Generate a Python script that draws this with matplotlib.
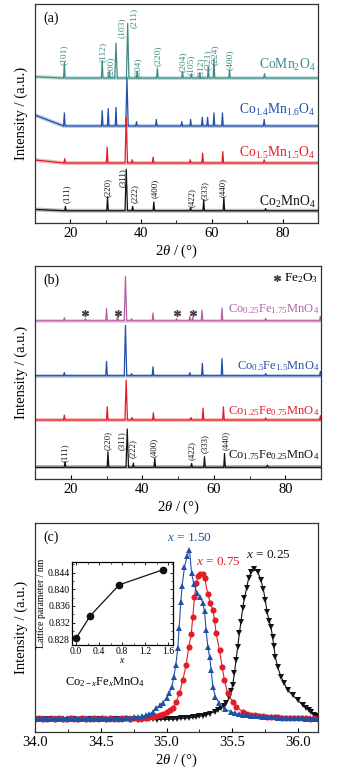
import numpy as np
import matplotlib
matplotlib.use("Agg")
import matplotlib.pyplot as plt
from matplotlib.ticker import MultipleLocator

plt.rcParams["font.family"] = ["Liberation Serif", "DejaVu Serif"]
plt.rcParams["mathtext.fontset"] = "custom"
plt.rcParams["mathtext.rm"] = "Liberation Serif"
plt.rcParams["mathtext.it"] = "Liberation Serif:italic"
plt.rcParams["mathtext.bf"] = "Liberation Serif:bold"
plt.rcParams["xtick.direction"] = "in"
plt.rcParams["ytick.direction"] = "in"

# ---------------- (a) Co(3-x)MnxO4 patterns: peak 2theta and height above baseline
a_names = ["CoMn$_2$O$_4$", "Co$_{1.4}$Mn$_{1.6}$O$_4$",
           "Co$_{1.5}$Mn$_{1.5}$O$_4$", "Co$_2$MnO$_4$"]
a_baseline = [66.2, 44.3, 27.4, 5.6]
a_start = [66.8, 49.3, 28.8, 6.2]
a_peaks = [
    [18.3, 29.0, 31.0, 32.9, 36.2, 38.9, 44.6, 51.7, 54.2, 56.6, 59.0, 60.6, 65.0, 74.9],
    [18.3, 29.0, 30.7, 32.9, 36.0, 38.7, 44.3, 51.5, 54.0, 57.3, 58.8, 60.6, 63.0, 74.8],
    [18.4, 30.4, 35.8, 37.5, 43.4, 53.9, 57.4, 63.1, 74.8],
    [18.6, 30.5, 35.8, 37.6, 43.6, 54.0, 57.7, 63.4, 75.2],
]
a_heights = [
    [7, 8, 3, 16, 25, 3, 4.5, 3, 2, 2.5, 5.2, 9, 3.7, 2],
    [6, 7, 8, 8.5, 22, 2, 3, 2, 3, 4, 4, 6, 6, 3],
    [2, 7.3, 21, 1.5, 2.7, 1.5, 4.5, 5.2, 1.5],
    [2, 6.3, 19, 2, 4, 1.5, 5, 6, 1],
]
a_hkl_top = ["(101)", "(112)", "(200)", "(103)", "(211)", "(004)", "(220)",
             "(204)", "(105)", "(312)", "(321)", "(224)", "(400)"]
spinel_hkl = ["(111)", "(220)", "(311)", "(222)", "(400)", "(422)", "(333)", "(440)"]

# ---------------- (b) Co(2-x)FexMnO4 patterns
b_names = ["Co$_{0.25}$Fe$_{1.75}$MnO$_4$", "Co$_{0.5}$Fe$_{1.5}$MnO$_4$",
           "Co$_{1.25}$Fe$_{0.75}$MnO$_4$", "Co$_{1.75}$Fe$_{0.25}$MnO$_4$"]
b_baseline = [74.3, 48.5, 27.7, 5.5]
b_peaks = [
    [18.2, 24.1, 30.0, 33.1, 35.3, 37.0, 43.0, 49.6, 53.3, 54.1, 56.7, 62.3, 74.5, 89.8],
    [18.2, 30.0, 35.3, 37.0, 43.0, 53.3, 56.8, 62.3, 74.5, 89.8],
    [18.2, 30.2, 35.5, 37.1, 43.1, 53.6, 57.0, 62.7, 74.5, 89.8],
    [18.4, 30.4, 35.8, 37.5, 43.5, 53.8, 57.4, 63.0, 75.0],
]
b_heights = [
    [1.5, 1, 5.8, 2.7, 20.8, 1, 3.6, 1, 2, 1.5, 5, 6, 1.2, 2],
    [1.5, 6.7, 23.6, 1, 4.2, 1.5, 5.8, 8.1, 1, 2],
    [2.3, 6.2, 18.8, 1.2, 3.4, 1.2, 5.6, 6.2, 1, 2],
    [2.6, 7.3, 18, 2, 4.2, 1.8, 5, 6.5, 1],
]
fe2o3_peaks = [24.1, 33.2, 49.6, 54.1]

# ---------------- (c) (311) peak region, 2theta and intensity
c_tt_left = [34.00, 34.03, 34.06, 34.09, 34.12, 34.15, 34.18, 34.21, 34.24, 34.27,
             34.30, 34.33, 34.36, 34.39, 34.42, 34.45, 34.48, 34.51, 34.54, 34.57,
             34.60, 34.63, 34.66, 34.69, 34.72, 34.75, 34.78, 34.81, 34.84]
blue_left = [6.6, 6.2, 6.8, 6.4, 6.1, 6.7, 6.3, 6.5, 6.9, 6.2, 6.6, 6.4, 6.0, 6.7, 6.5,
             6.3, 6.8, 6.4, 6.6, 6.2, 6.9, 6.5, 6.3, 6.7, 6.6, 7.0, 7.2, 7.5, 7.9]
red_left = [6.3, 6.6, 6.1, 6.4, 6.8, 6.2, 6.5, 6.0, 6.4, 6.7, 6.3, 6.1, 6.6, 6.4, 6.2,
            6.8, 6.3, 6.5, 6.1, 6.6, 6.4, 6.2, 6.7, 6.5, 6.3, 6.6, 6.4, 6.8, 6.7]
black_left = [5.9, 6.1, 5.7, 6.0, 6.2, 5.8, 6.1, 5.9, 5.6, 6.0, 6.2, 5.8, 6.0, 5.9, 6.1,
              5.7, 6.0, 6.2, 5.8, 5.9, 6.1, 6.0, 5.8, 6.2, 5.9, 6.0, 6.1, 5.9, 6.0]

blue_tt = [34.87, 34.90, 34.92, 34.95, 34.97, 35.00, 35.02, 35.04, 35.055, 35.07,
           35.085, 35.095, 35.108, 35.118, 35.136, 35.155, 35.174, 35.19, 35.207, 35.23,
           35.255, 35.275, 35.288, 35.30, 35.313, 35.326, 35.339, 35.351, 35.371, 35.40,
           35.44, 35.49, 35.52, 35.55, 35.58, 35.61, 35.64, 35.67, 35.70, 35.73,
           35.76, 35.79, 35.82, 35.85, 35.88, 35.91, 35.94, 35.97, 36.00, 36.03,
           36.06, 36.09, 36.12, 36.15]
blue_int = [8.5, 9.8, 11.3, 12.8, 14.0, 16.1, 18.5, 21.7, 26.5, 32.0,
            40.0, 50.0, 62.2, 70.0, 78.9, 84.0, 87.1, 76.0, 70.8, 66.7,
            64.6, 61.9, 57.9, 49.0, 40.8, 36.0, 29.7, 21.7, 16.9, 13.7,
            11.0, 9.7, 9.0, 8.6, 8.3, 8.0, 7.8, 7.6, 7.5, 7.3,
            7.2, 7.1, 7.0, 6.9, 6.8, 6.8, 6.7, 6.6, 6.6, 6.5,
            6.4, 6.6, 6.3, 6.4]
red_tt = [34.87, 34.90, 34.92, 34.95, 34.97, 35.00, 35.025, 35.048, 35.073, 35.098,
          35.123, 35.149, 35.169, 35.187, 35.199, 35.212, 35.225, 35.24, 35.255, 35.273,
          35.29, 35.313, 35.333, 35.351, 35.364, 35.376, 35.402, 35.422, 35.439, 35.464,
          35.502, 35.528, 35.578, 35.61, 35.64, 35.67, 35.70, 35.73, 35.76, 35.79,
          35.82, 35.85, 35.88, 35.91, 35.94, 35.97, 36.00, 36.03, 36.06, 36.09,
          36.12, 36.15]
red_int = [7.2, 7.0, 7.6, 8.1, 8.8, 9.7, 10.4, 11.3, 14.5, 18.5,
           24.9, 32.1, 40.8, 46.9, 54.9, 64.7, 71.1, 74.5, 75.5, 75.5,
           73.5, 65.9, 61.6, 58.4, 53.6, 47.2, 39.2, 31.2, 24.9, 18.5,
           14.5, 12.1, 9.7, 8.8, 8.3, 8.0, 7.8, 7.6, 7.4, 7.3,
           7.1, 7.0, 6.9, 6.8, 6.7, 6.7, 6.6, 6.5, 6.6, 6.4,
           6.5, 6.3]
black_tt = [34.87, 34.90, 34.93, 34.96, 34.99, 35.02, 35.05, 35.08, 35.11, 35.14,
            35.17, 35.20, 35.225, 35.25, 35.275, 35.30, 35.33, 35.364, 35.39, 35.414,
            35.435, 35.452, 35.477, 35.49, 35.502, 35.515, 35.528, 35.540, 35.553, 35.565,
            35.578, 35.591, 35.608, 35.623, 35.642, 35.667, 35.692, 35.717, 35.735, 35.750,
            35.763, 35.78, 35.793, 35.805, 35.815, 35.826, 35.843, 35.869, 35.894, 35.919,
            35.957, 35.995, 36.033, 36.06, 36.083, 36.10, 36.121, 36.14]
black_int = [6.0, 6.1, 5.9, 6.1, 6.0, 6.1, 6.1, 6.3, 6.5, 6.6,
             6.8, 7.0, 7.3, 7.5, 7.8, 8.1, 8.8, 9.7, 10.5, 11.3,
             12.5, 13.7, 16.9, 19.5, 22.5, 28.1, 34.4, 40.8, 47.2, 52.8,
             59.2, 64.0, 68.8, 73.5, 76.7, 77.8, 76.7, 72.7, 68.3, 63.2,
             57.6, 53.0, 50.1, 45.6, 41.0, 36.0, 31.2, 26.5, 23.3, 20.1,
             17.7, 15.3, 12.9, 11.5, 10.5, 9.5, 8.1, 7.5]

# inset: lattice parameter vs Fe content
fe_x = [0.0, 0.25, 0.75, 1.5]
lattice_nm = [0.8282, 0.8337, 0.8411, 0.8447]

# ---------------- layout / style
teal, blue, red, black, mag = "#3f8c86", "#2250a8", "#e31c25", "#111111", "#b262a4"
a_colors = [teal, blue, red, black]
b_colors = [mag, blue, red, black]
# label anchors (2theta, bottom) for hkl text
a_top_lbl_x = [18.1, 29.2, 31.3, 34.65, 37.9, 39.0, 44.75, 51.7, 54.15, 57.0, 59.0, 60.9, 65.1]
a_top_lbl_y = [72.1, 73.7, 66.8, 84.5, 89.0, 66.2, 71.5, 69.0, 67.6, 66.0, 69.9, 72.1, 69.9]
a_bot_lbl_x = [18.9, 30.7, 34.9, 38.35, 44.0, 54.35, 58.1, 63.2]
a_bot_lbl_y = [9.1, 11.9, 16.4, 9.1, 11.4, 7.3, 10.5, 11.9]
b_bot_lbl_x = [18.2, 30.25, 34.3, 37.25, 43.3, 53.9, 57.6, 63.5]
b_bot_lbl_y = [8.0, 13.6, 13.6, 9.9, 10.3, 8.9, 12.2, 13.6]
a_name_y = [0.72, 0.516, 0.32, 0.097]
b_name_y = [0.798, 0.53, 0.32, 0.113]
TICK_FS = 10.5
LABEL_FS = 10.5


def trace(base, start, peaks, heights, lo=10.0, hi=90.0):
    x, y = [lo], [start]
    for p, h in zip(peaks, heights):
        w = 0.35 if h > 15 else 0.22
        x += [p - w, p, p + w]
        y += [base, base + h, base]
    x.append(hi)
    y.append(base)
    return x, y


def draw_trace(ax, x, y, color):
    # noisy-looking baseline band, then the pattern itself
    ax.plot([x[0], x[1], x[-1]], [y[0], y[1], y[-1]], color=color, lw=2.8, alpha=0.3)
    ax.plot(x, y, color=color, lw=0.9)


def style_xrd(ax):
    ax.set_xlim(10, 90)
    ax.set_ylim(0, 100)
    ax.set_yticks([])
    ax.xaxis.set_major_locator(MultipleLocator(20))
    ax.xaxis.set_minor_locator(MultipleLocator(10))
    ax.tick_params(axis="x", labelsize=TICK_FS, length=3, width=0.8, pad=3)
    ax.tick_params(axis="x", which="minor", length=2, width=0.6)
    ax.set_xlabel(r"2$\theta$ / (°)", fontsize=LABEL_FS, labelpad=2)
    ax.set_ylabel("Intensity / (a.u.)", fontsize=LABEL_FS, labelpad=5)
    for s in ax.spines.values():
        s.set_color("#333333")
        s.set_linewidth(0.9)


fig = plt.figure(figsize=(3.48, 7.76), dpi=100)

# ---- panel (a)
ax_a = fig.add_axes([0.1006, 0.7126, 0.813, 0.2822])
for i in range(4):
    x, y = trace(a_baseline[i], a_start[i], a_peaks[i], a_heights[i])
    draw_trace(ax_a, x, y, a_colors[i])
    ax_a.text(0.99, a_name_y[i], a_names[i], transform=ax_a.transAxes, ha="right",
              va="center", fontsize=9.8, color=a_colors[i])
for lbl, lx, ly in zip(a_hkl_top, a_top_lbl_x, a_top_lbl_y):
    ax_a.text(lx, ly, lbl, rotation=90, ha="center", va="bottom", fontsize=6.8, color=teal)
for lbl, lx, ly in zip(spinel_hkl, a_bot_lbl_x, a_bot_lbl_y):
    ax_a.text(lx, ly, lbl, rotation=90, ha="center", va="bottom", fontsize=6.3, color=black)
ax_a.text(0.03, 0.935, "(a)", transform=ax_a.transAxes, fontsize=10, va="center")
style_xrd(ax_a)

# ---- panel (b)
ax_b = fig.add_axes([0.1006, 0.3827, 0.822, 0.2745])
for i in range(4):
    x, y = trace(b_baseline[i], b_baseline[i], b_peaks[i], b_heights[i])
    draw_trace(ax_b, x, y, b_colors[i])
    ax_b.text(0.995, b_name_y[i], b_names[i], transform=ax_b.transAxes, ha="right",
              va="center", fontsize=9.0, color=b_colors[i])
for lbl, lx, ly in zip(spinel_hkl, b_bot_lbl_x, b_bot_lbl_y):
    ax_b.text(lx, ly, lbl, rotation=90, ha="center", va="bottom", fontsize=6.3, color=black)
ax_b.plot(fe2o3_peaks, [b_baseline[0] + 3.5] * len(fe2o3_peaks), ls="none",
          marker=(6, 2, 0), ms=5, mew=1.0, color="#444444")
ax_b.plot([0.845], [0.944], transform=ax_b.transAxes, marker=(6, 2, 0), ms=5,
          mew=1.0, color="#444444")
ax_b.text(0.87, 0.944, "Fe$_2$O$_3$", transform=ax_b.transAxes, fontsize=9.5, va="center")
ax_b.text(0.03, 0.934, "(b)", transform=ax_b.transAxes, fontsize=10, va="center")
style_xrd(ax_b)

# ---- panel (c)
ax_c = fig.add_axes([0.1006, 0.0567, 0.813, 0.2693])
ax_c.plot(c_tt_left + black_tt, black_left + black_int, color=black, lw=0.8,
          marker="v", ms=4.4, mew=0)
ax_c.plot(c_tt_left + red_tt, red_left + red_int, color=red, lw=0.8,
          marker="o", ms=4.4, mew=0)
ax_c.plot(c_tt_left + blue_tt, blue_left + blue_int, color=blue, lw=0.8,
          marker="^", ms=4.6, mew=0)
ax_c.set_xlim(34.0, 36.15)
ax_c.set_ylim(0, 100)
ax_c.set_yticks([])
ax_c.xaxis.set_major_locator(MultipleLocator(0.5))
ax_c.xaxis.set_minor_locator(MultipleLocator(0.25))
ax_c.xaxis.set_major_formatter(matplotlib.ticker.FormatStrFormatter("%.1f"))
ax_c.tick_params(axis="x", labelsize=TICK_FS, length=3, width=0.8, pad=3)
ax_c.tick_params(axis="x", which="minor", length=2, width=0.6)
ax_c.set_xlabel(r"2$\theta$ / (°)", fontsize=LABEL_FS, labelpad=2)
ax_c.set_ylabel("Intensity / (a.u.)", fontsize=LABEL_FS, labelpad=5)
for s in ax_c.spines.values():
    s.set_color("#333333")
    s.set_linewidth(0.9)
ax_c.text(35.17, 92.8, "$x$ = 1.50", ha="center", va="center", fontsize=9.5, color=blue)
ax_c.text(35.39, 81.3, "$x$ = 0.75", ha="center", va="center", fontsize=9.5, color=red)
ax_c.text(35.77, 84.7, "$x$ = 0.25", ha="center", va="center", fontsize=9.5, color=black)
ax_c.text(34.23, 23.9, "Co$_{2-x}$Fe$_x$MnO$_4$", ha="left", va="center", fontsize=9)
ax_c.text(0.03, 0.933, "(c)", transform=ax_c.transAxes, fontsize=10, va="center")

# inset
ax_in = fig.add_axes([0.2069, 0.1688, 0.290, 0.107])
ax_in.plot(fe_x, lattice_nm, color=black, lw=0.9, marker="o", ms=4.5)
ax_in.set_xlim(-0.07, 1.68)
ax_in.set_ylim(0.8266, 0.8466)
ax_in.xaxis.set_major_locator(MultipleLocator(0.4))
ax_in.xaxis.set_minor_locator(MultipleLocator(0.2))
ax_in.yaxis.set_major_locator(MultipleLocator(0.004))
ax_in.yaxis.set_minor_locator(MultipleLocator(0.002))
ax_in.xaxis.set_major_formatter(matplotlib.ticker.FormatStrFormatter("%.1f"))
ax_in.yaxis.set_major_formatter(matplotlib.ticker.FormatStrFormatter("%.3f"))
ax_in.tick_params(labelsize=7, length=2.5, width=0.6, pad=1.5, top=True, right=True)
ax_in.tick_params(which="minor", length=1.5, width=0.5, top=True, right=True)
ax_in.set_xlabel("$x$", fontsize=7, labelpad=0)
ax_in.set_ylabel("Lattice parameter / nm", fontsize=7, labelpad=1)
for s in ax_in.spines.values():
    s.set_linewidth(0.9)

fig.savefig("out.png", dpi=100)
